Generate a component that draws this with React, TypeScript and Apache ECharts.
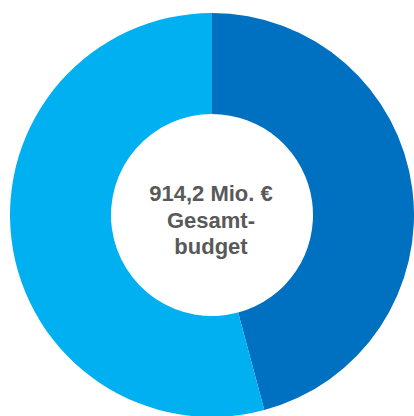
import React, { useEffect, useRef } from "react";
import * as echarts from "echarts";

const categories = ["Anteil A", "Anteil B"];
const values = [419.0, 495.2];
const colors = ["#0070C0", "#00B0F0"];
const centerLines = ["914,2 Mio. €", "Gesamt-", "budget"];

export default function App() {
  const ref = useRef<HTMLDivElement>(null);
  useEffect(() => {
    if (!ref.current) return;
    const chart = echarts.init(ref.current, null, { renderer: "svg" });
    chart.setOption({
      animation: false,
      backgroundColor: "#ffffff",
      series: [
        {
          type: "pie",
          center: [212, 215],
          radius: [101, 202],
          startAngle: 90,
          clockwise: true,
          label: { show: false },
          labelLine: { show: false },
          emphasis: { disabled: true },
          itemStyle: { borderWidth: 0 },
          data: categories.map((name, i) => ({
            name,
            value: values[i],
            itemStyle: { color: colors[i] },
          })),
        },
      ],
      graphic: [
        {
          type: "text",
          x: 211,
          y: 220,
          style: {
            text: centerLines.join("\n"),
            font: 'bold 22px "Liberation Sans", Arial, sans-serif',
            fill: "#595959",
            align: "center",
            verticalAlign: "middle",
            lineHeight: 26.5,
          },
        },
      ],
    });
    return () => chart.dispose();
  }, []);
  return (
    <div
      ref={ref}
      style={{ position: "fixed", left: 0, top: 0, width: 414, height: 416 }}
    />
  );
}
